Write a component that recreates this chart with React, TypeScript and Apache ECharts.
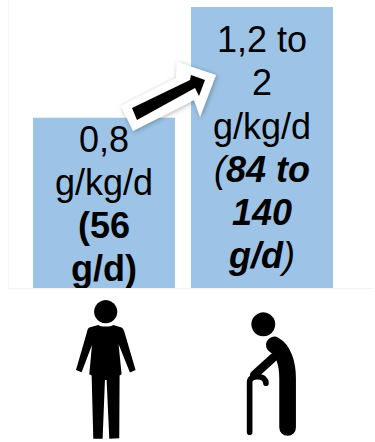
import React, { useEffect, useRef } from "react";
import * as echarts from "echarts";

// Protein intake recommendation, adult versus older adult
const categories = ["Adult", "Older adult"];
const intakeValues = [0.8, 1.32];
const barLabels = [
  "{reg|0,8}\n{reg|g/kg/d}\n{bold|(56}\n{bold|g/d)}",
  "{reg|1,2 to}\n{reg|2}\n{reg|g/kg/d}\n{it|(}{bi|84 to}\n{bi|140}\n{bi|g/d}{it|)}",
];
const labelOffsets = [0, 11];

const FONT = "'Liberation Sans', Arial, sans-serif";
const textStyle = (fontWeight: string, fontStyle: string) => ({
  fontFamily: FONT,
  fontSize: 36,
  lineHeight: 43.2,
  color: "#000",
  fontWeight,
  fontStyle,
});

// Silhouettes, drawn on a 3x grid and scaled down where they are placed
const PERSON =
  "M118 128 L145 120 C152 126 182 126 190 120 L215 128 C219 130 221 135 223 140 L257 255 L240 263 L206 178 L215 268 L209 272 L208 460 L178 462 L170 285 L165 285 L158 462 L130 462 L125 272 L118 268 L126 180 L95 262 L78 255 L110 145 C112 136 114 130 118 128 Z";
const ELDER_BODY = "M163 150 C190 165 203 205 203 250 L203 398";
const ELDER_ARM = "M160 188 L103 240";
const ELDER_CANE = "M89 412 L89 262 C89 250 100 245 112 245 C130 245 138 255 138 265";

echarts.graphic.registerShape("person", echarts.graphic.extendPath(PERSON, {}));
echarts.graphic.registerShape("elderBody", echarts.graphic.extendPath(ELDER_BODY, {}));
echarts.graphic.registerShape("elderArm", echarts.graphic.extendPath(ELDER_ARM, {}));
echarts.graphic.registerShape("elderCane", echarts.graphic.extendPath(ELDER_CANE, {}));

const elderStroke = (lineWidth: number) => ({
  fill: "none",
  stroke: "#000",
  lineWidth,
  lineCap: "round",
  lineJoin: "round",
});

export default function App() {
  const ref = useRef<HTMLDivElement>(null);

  useEffect(() => {
    const chart = echarts.init(ref.current!, undefined, { renderer: "svg" });
    chart.setOption({
      animation: false,
      backgroundColor: "#fff",
      grid: { left: 25, top: 7, width: 316, height: 281 },
      xAxis: {
        type: "category",
        data: categories,
        axisLine: { show: false },
        axisTick: { show: false },
        axisLabel: { show: false },
      },
      yAxis: { type: "value", min: 0, max: 1.32, show: false },
      series: [
        {
          type: "bar",
          barWidth: 142,
          itemStyle: { color: "#9DC3E6" },
          data: intakeValues.map((value, i) => ({
            value,
            label: {
              show: true,
              position: "insideTop",
              distance: labelOffsets[i],
              formatter: barLabels[i],
              rich: {
                reg: textStyle("normal", "normal"),
                bold: textStyle("bold", "normal"),
                bi: textStyle("bold", "italic"),
                it: textStyle("normal", "italic"),
              },
            },
          })),
        },
      ],
      graphic: [
        // Panel below the baseline trims the descenders of the last text line
        { type: "rect", z: 10, shape: { x: 0, y: 289, width: 375, height: 153 }, style: { fill: "#fff" } },
        // Faint frame lines around the plot
        { type: "line", z: 11, shape: { x1: 8, y1: 288.5, x2: 372, y2: 288.5 }, style: { stroke: "#f2f2f2", lineWidth: 1 } },
        { type: "line", z: 1, shape: { x1: 8.5, y1: 0, x2: 8.5, y2: 288 }, style: { stroke: "#f7f7f7", lineWidth: 1 } },
        // Arrow between the two bars
        {
          type: "polygon",
          z: 20,
          shape: { points: [[121, 106], [176, 78], [177, 62], [216, 75], [200, 117], [194, 100], [133, 131]] },
          style: { fill: "#fff", shadowBlur: 5, shadowColor: "rgba(0,0,0,0.3)", shadowOffsetX: 1, shadowOffsetY: 1 },
        },
        {
          type: "polygon",
          z: 21,
          shape: { points: [[132, 108], [190, 80], [191, 75], [205, 80], [199, 96], [195, 88], [137, 120]] },
          style: { fill: "#000" },
        },
        // Standing adult
        { type: "circle", z: 20, shape: { cx: 105.7, cy: 311.7, r: 11.6 }, style: { fill: "#000" } },
        { type: "person", z: 20, x: 50, y: 285, scaleX: 1 / 3, scaleY: 1 / 3, style: { fill: "#000" } },
        // Older adult with a cane
        { type: "circle", z: 20, shape: { cx: 263.3, cy: 324.3, r: 12 }, style: { fill: "#000" } },
        { type: "elderBody", z: 20, x: 220, y: 295, scaleX: 1 / 3, scaleY: 1 / 3, style: elderStroke(50) },
        { type: "elderArm", z: 20, x: 220, y: 295, scaleX: 1 / 3, scaleY: 1 / 3, style: elderStroke(26) },
        { type: "elderCane", z: 20, x: 220, y: 295, scaleX: 1 / 3, scaleY: 1 / 3, style: elderStroke(17) },
      ],
    });
    return () => chart.dispose();
  }, []);

  return <div ref={ref} style={{ position: "absolute", left: 0, top: 0, width: 375, height: 442 }} />;
}
